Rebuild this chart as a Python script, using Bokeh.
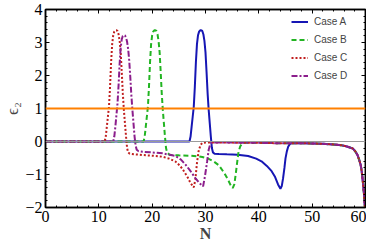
from bokeh.plotting import figure
from bokeh.models import (LinearAxis, Legend, LegendItem, Range1d, Span,
                          SingleIntervalTicker, CustomJSTickFormatter)
from bokeh.embed import file_html
from bokeh.resources import INLINE

# ---- data ----
tail_N = [31.5, 34, 37, 40, 43, 46.1, 48, 50, 52, 54, 55.4, 56.5, 57.6, 58.1,
          58.5, 58.8, 59.1, 59.3, 59.5, 59.7, 59.85, 60]
tail_e = [-0.03, -0.03, -0.04, -0.04, -0.05, -0.05, -0.05, -0.06, -0.07, -0.09,
          -0.11, -0.15, -0.21, -0.30, -0.41, -0.55, -0.71, -0.92, -1.21, -1.55,
          -1.90, -2.30]

caseA_N = [0, 10, 20, 27.0, 27.2, 27.4, 27.6, 27.8, 28.0, 28.2, 28.4, 28.6, 28.8,
           29.0, 29.2, 29.4, 29.6, 29.8, 30.0, 30.2, 30.4, 30.6, 30.8, 31.0,
           31.2, 31.4, 31.7, 32.5, 34, 36, 38, 39.5, 40.5, 41.5, 42.4, 43.0,
           43.6, 44.05, 44.3, 44.55, 44.8, 45.0, 45.25, 45.5, 45.8, 46.1]
caseA_e = [0, 0, 0, 0, 0.15, 0.45, 0.75, 1.05, 1.65, 2.4, 2.95, 3.22, 3.33,
           3.37, 3.37, 3.35, 3.25, 3.05, 2.7, 2.1, 1.45, 0.95, 0.55, 0.15,
           -0.2, -0.33, -0.37, -0.38, -0.39, -0.40, -0.44, -0.52, -0.60, -0.74,
           -0.90, -1.06, -1.30, -1.43, -1.35, -1.11, -0.80, -0.51, -0.30, -0.16,
           -0.08, -0.05]

caseB_N = [0, 10, 18.4, 18.6, 18.8, 19.0, 19.2, 19.4, 19.6, 19.8, 20.0, 20.2,
           20.4, 20.6, 20.8, 21.0, 21.2, 21.4, 21.6, 21.8, 22.0, 22.2, 22.4,
           22.6, 22.8, 23.1, 23.4, 25, 27, 28.5, 29.4, 30.5, 31.5, 32.5, 33.5,
           34.2, 34.7, 35.1, 35.4, 35.7, 36.0, 36.2, 36.5, 36.9]
caseB_e = [0, 0, 0, 0.15, 0.45, 0.75, 1.05, 1.65, 2.4, 2.95, 3.22, 3.33, 3.37,
           3.37, 3.35, 3.25, 3.05, 2.7, 2.1, 1.45, 0.95, 0.55, 0.15, -0.2,
           -0.33, -0.38, -0.41, -0.42, -0.43, -0.45, -0.47, -0.52, -0.60, -0.72,
           -0.95, -1.15, -1.32, -1.41, -1.30, -0.95, -0.55, -0.31, -0.15, -0.05]

caseC_N = [0, 5, 11.1, 11.3, 11.5, 11.7, 11.9, 12.1, 12.3, 12.5, 12.7, 12.9,
           13.1, 13.3, 13.5, 13.7, 13.9, 14.1, 14.3, 14.5, 14.7, 14.9, 15.1,
           15.3, 15.5, 15.8, 16.2, 18.2, 20, 21.9, 23.2, 24.4, 25.3, 26.0, 26.7,
           27.2, 27.8, 28.1, 28.4, 28.7, 29.05, 29.4, 30]
caseC_e = [0, 0, 0, 0.15, 0.45, 0.75, 1.05, 1.65, 2.4, 2.95, 3.22, 3.33, 3.37,
           3.37, 3.35, 3.25, 3.05, 2.7, 2.1, 1.45, 0.95, 0.55, 0.15, -0.2,
           -0.33, -0.37, -0.38, -0.41, -0.43, -0.46, -0.52, -0.61, -0.75, -0.91,
           -1.10, -1.26, -1.39, -1.15, -0.65, -0.30, -0.11, -0.04, -0.03]

caseD_N = [0, 5, 12.7, 12.9, 13.1, 13.3, 13.5, 13.7, 13.9, 14.1, 14.3, 14.5,
           14.7, 14.9, 15.1, 15.3, 15.5, 15.7, 15.9, 16.1, 16.3, 16.5, 16.7,
           16.9, 17.1, 17.4, 18.2, 20, 22, 24.4, 25.4, 26.3, 27.2, 28.1, 28.8,
           29.55, 29.9, 30.3, 30.6, 30.9, 31.2]
caseD_e = [0, 0, 0, 0.15, 0.45, 0.8, 1.15, 1.7, 2.35, 2.85, 3.1, 3.2, 3.22,
           3.21, 3.15, 3.02, 2.8, 2.45, 1.95, 1.4, 0.95, 0.55, 0.15, -0.12,
           -0.25, -0.29, -0.31, -0.33, -0.36, -0.44, -0.55, -0.71, -0.90, -1.11,
           -1.25, -1.36, -1.05, -0.61, -0.25, -0.07, -0.03]

labels = ["Case A", "Case B", "Case C", "Case D"]
x_label = "N"
y_label = "\u03f5\u2082"

# ---- figure ----
p = figure(width=366, height=244, output_backend="svg", toolbar_location=None,
           x_range=Range1d(0, 60), y_range=Range1d(-2, 4),
           min_border_left=0, min_border_right=1, min_border_top=9,
           min_border_bottom=0)
p.xgrid.visible = False
p.ygrid.visible = False
p.outline_line_color = "black"
p.outline_line_width = 1.5
p.background_fill_color = "white"

serif = "Liberation Serif"


def style_axis(ax, show_labels):
    ax.axis_line_color = "black"
    ax.axis_line_width = 1.5
    ax.major_tick_in = 4
    ax.major_tick_out = 0
    ax.minor_tick_in = 2
    ax.minor_tick_out = 0
    ax.major_tick_line_width = 1
    ax.minor_tick_line_width = 1
    ax.major_label_text_font = serif
    ax.major_label_text_font_size = "16px"
    ax.major_label_text_color = "black"
    if not show_labels:
        ax.formatter = CustomJSTickFormatter(code="return ''")
        ax.major_label_standoff = 0


p.xaxis.ticker = SingleIntervalTicker(interval=10, num_minor_ticks=5)
p.yaxis.ticker = SingleIntervalTicker(interval=1, num_minor_ticks=5)
style_axis(p.xaxis[0], True)
style_axis(p.yaxis[0], True)
p.xaxis.major_label_standoff = 3
p.yaxis.major_label_standoff = 3
p.yaxis.major_label_overrides = {-1: "\u22121", -2: "\u22122"}
p.xaxis.axis_label = x_label
p.xaxis.axis_label_text_font = serif
p.xaxis.axis_label_text_font_style = "bold"
p.xaxis.axis_label_text_font_size = "16px"
p.xaxis.axis_label_standoff = 0
p.yaxis.axis_label = y_label
p.yaxis.axis_label_text_font = serif
p.yaxis.axis_label_text_font_style = "normal"
p.yaxis.axis_label_text_font_size = "17px"
p.yaxis.axis_label_standoff = 0

top = LinearAxis(ticker=SingleIntervalTicker(interval=10, num_minor_ticks=5))
style_axis(top, False)
right = LinearAxis(ticker=SingleIntervalTicker(interval=1, num_minor_ticks=5))
style_axis(right, False)
p.add_layout(top, "above")
p.add_layout(right, "right")

p.add_layout(Span(location=0, dimension="width", line_color="#9a9a9a",
                  line_width=1))

rA = p.line(caseA_N + tail_N[5:], caseA_e + tail_e[5:], line_color="#1616b4",
            line_width=2)
rB = p.line(caseB_N + tail_N[2:], caseB_e + tail_e[2:], line_color="#22b422",
            line_width=2, line_dash="5 3")
rC = p.line(caseC_N + tail_N, caseC_e + tail_e, line_color="#c01e1e",
            line_width=2, line_dash="2 2")
rD = p.line(caseD_N + tail_N, caseD_e + tail_e, line_color="#8c1e8c",
            line_width=2, line_dash="6 2 2 2")

p.add_layout(Span(location=1, dimension="width", line_color="#ff8000",
                  line_width=2))

legend = Legend(items=[LegendItem(label=labels[i], renderers=[r])
                       for i, r in enumerate([rA, rB, rC, rD])],
                location=(244, 122), label_text_font="Liberation Sans",
                label_text_font_size="10px", glyph_width=17, glyph_height=15,
                label_height=15, spacing=3, padding=2, margin=0,
                label_standoff=6, background_fill_alpha=0,
                border_line_alpha=0)
p.add_layout(legend)

open("out.html", "w").write(file_html(p, INLINE))
